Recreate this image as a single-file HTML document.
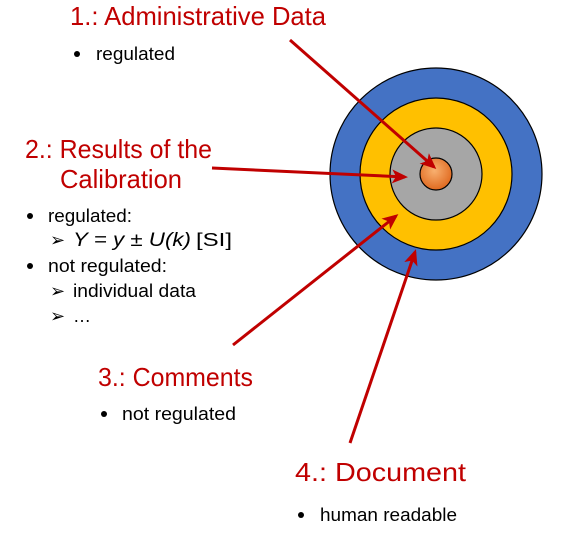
<!DOCTYPE html>
<html><head><meta charset="utf-8"><style>
html,body{margin:0;padding:0;background:#fff;}
svg{display:block}
text{font-family:"Liberation Sans",sans-serif;}
.t{fill:#c00000;font-size:26px}
.b{fill:#000;font-size:18px}
</style></head><body>
<svg width="563" height="533" viewBox="0 0 563 533" xmlns="http://www.w3.org/2000/svg">
<defs>
<radialGradient id="og" cx="0.45" cy="0.4" r="0.6"><stop offset="0" stop-color="#f8b070"/><stop offset="1" stop-color="#e06a20"/></radialGradient>
<marker id="ah" markerWidth="16" markerHeight="14" refX="13" refY="7" orient="auto" markerUnits="userSpaceOnUse"><path d="M0,0 L16,7 L0,14 L4,7 Z" fill="#c00000"/></marker>
</defs>
<circle cx="436" cy="174" r="106" fill="#4472c4" stroke="#000" stroke-width="1.2"/>
<circle cx="436" cy="174" r="76" fill="#ffc000" stroke="#000" stroke-width="1.2"/>
<circle cx="436" cy="174" r="46" fill="#a6a6a6" stroke="#000" stroke-width="1.2"/>
<circle cx="436" cy="174" r="16" fill="url(#og)" stroke="#000" stroke-width="1.2"/>
<g stroke="#c00000" stroke-width="3" fill="none">
<line x1="290" y1="40" x2="434" y2="167" marker-end="url(#ah)"/>
<line x1="212" y1="168" x2="405" y2="177" marker-end="url(#ah)"/>
<line x1="233" y1="345" x2="396" y2="216" marker-end="url(#ah)"/>
<line x1="350" y1="443" x2="415" y2="252" marker-end="url(#ah)"/>
</g>
<circle cx="77" cy="54" r="3"/>
<text class="t" x="70" y="25" textLength="256" lengthAdjust="spacingAndGlyphs">1.: Administrative Data</text>
<text class="b" x="96" y="60" textLength="79" lengthAdjust="spacingAndGlyphs">regulated</text>

<text class="t" x="25" y="158" textLength="187" lengthAdjust="spacingAndGlyphs">2.: Results of the</text>
<text class="t" x="60" y="188" textLength="122" lengthAdjust="spacingAndGlyphs">Calibration</text>
<circle cx="30" cy="216" r="3"/>
<text class="b" x="48" y="222" textLength="84" lengthAdjust="spacingAndGlyphs">regulated:</text>
<text class="b" x="50" y="246" font-size="20">➢</text>
<text x="73" y="246" font-family="Liberation Serif" font-size="19" font-style="italic" textLength="118" lengthAdjust="spacingAndGlyphs">Y = y  ± U(k)</text>
<text class="b" x="196" y="246" textLength="36" lengthAdjust="spacingAndGlyphs">[SI]</text>
<circle cx="30" cy="266" r="3"/>
<text class="b" x="48" y="272" textLength="119" lengthAdjust="spacingAndGlyphs">not regulated:</text>
<text class="b" x="50" y="297" font-size="20">➢</text>
<text class="b" x="73" y="297" textLength="123" lengthAdjust="spacingAndGlyphs">individual data</text>
<text class="b" x="50" y="322" font-size="20">➢</text>
<text class="b" x="73" y="322">…</text>

<text class="t" x="98" y="386" textLength="155" lengthAdjust="spacingAndGlyphs">3.: Comments</text>
<circle cx="104" cy="414" r="3"/>
<text class="b" x="122" y="420" textLength="114" lengthAdjust="spacingAndGlyphs">not regulated</text>

<text class="t" x="295" y="481" textLength="171" lengthAdjust="spacingAndGlyphs">4.: Document</text>
<circle cx="301" cy="515" r="3"/>
<text class="b" x="320" y="521" textLength="137" lengthAdjust="spacingAndGlyphs">human readable</text>
</svg>
</body></html>
